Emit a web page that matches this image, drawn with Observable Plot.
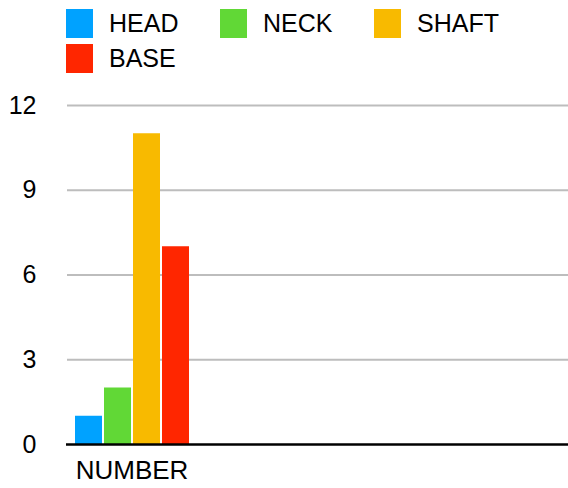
<!DOCTYPE html>
<html>
<head>
<meta charset="utf-8">
<script src="https://cdn.jsdelivr.net/npm/d3@7"></script>
<script src="https://cdn.jsdelivr.net/npm/@observablehq/plot@0.6"></script>
<style>
  body { margin: 0; background: #fff; font-family: "Liberation Sans", Arial, sans-serif; }
  #chart { width: 568px; height: 488px; overflow: hidden; }
  #plotArea { position: relative; width: 568px; height: 410px; }
  #plotArea > svg { position: absolute; left: 0; top: 0; }
  div.lg-swatches, div.lg-swatches-wrap {
    margin: 0 !important;
    padding: 6px 0 0 66px !important;
    height: 72px !important;
    min-height: 0 !important;
    align-content: flex-start !important;
    font-family: "Liberation Sans", Arial, sans-serif !important;
    font-size: 25px !important;
    color: #000 !important;
  }
  div.lg-swatches-wrap .lg-swatch {
    width: 154px;
    height: 35px;
    margin: 0 !important;
  }
  div.lg-swatches-wrap .lg-swatch > svg { margin-right: 16px !important; }
</style>
</head>
<body>
<div id="chart">
  <div id="legend"></div>
  <div id="plotArea"></div>
</div>
<script>
// Single group of counts, one bar per part
const group = "NUMBER";
const parts = ["HEAD", "NECK", "SHAFT", "BASE"];
const counts = [1, 2, 11, 7];
const colors = ["#00A2FF", "#61D836", "#F8BA00", "#FF2600"];
const yTicks = [0, 3, 6, 9, 12];

const rows = parts.map((part, i) => ({group, part, count: counts[i]}));
const font = '"Liberation Sans", Arial, sans-serif';
const color = {type: "categorical", domain: parts, range: colors};

// Shared frame so all layers line up
const frame = {
  width: 568,
  height: 410,
  marginTop: 27,
  marginBottom: 44,
  marginLeft: 67,
  marginRight: 0,
  style: {fontFamily: font, fontSize: "25px", color: "#000", background: "transparent", overflow: "visible"},
  y: {domain: [0, 12]}
};

const legend = Plot.legend({
  color,
  className: "lg",
  swatchWidth: 27,
  swatchHeight: 29
});

// Back layer: gridlines and value axis across the full width
const back = Plot.plot({
  ...frame,
  marks: [
    Plot.gridY(yTicks.filter((d) => d > 0), {stroke: "#bdbdbd", strokeWidth: 2, strokeOpacity: 1}),
    Plot.axisY(yTicks, {tickSize: 0, tickPadding: 31, label: null, fontSize: 25})
  ]
});

// Front layer: grouped bars and the group label
const front = Plot.plot({
  ...frame,
  fx: {
    domain: [group],
    paddingInner: 0,
    paddingOuter: 1.435,
    align: 0,
    axis: null
  },
  x: {domain: parts, paddingInner: 0.082, paddingOuter: 0.238, axis: null},
  color,
  marks: [
    Plot.barY(rows, {fx: "group", x: "part", y: "count", fill: "part"}),
    Plot.axisFx({tickSize: 0, tickPadding: 16, label: null, fontSize: 26, anchor: "bottom"}),
    Plot.axisY({ticks: [], label: null, tickSize: 0})
  ]
});

// Zero line spanning the full width, drawn above the bars
const zero = Plot.plot({
  ...frame,
  marks: [
    Plot.ruleY([0], {stroke: "#000", strokeWidth: 2.5, insetLeft: -1}),
    Plot.axisY({ticks: [], label: null, tickSize: 0})
  ]
});

document.getElementById("legend").append(legend);
document.getElementById("plotArea").append(back, front, zero);
</script>
</body>
</html>
